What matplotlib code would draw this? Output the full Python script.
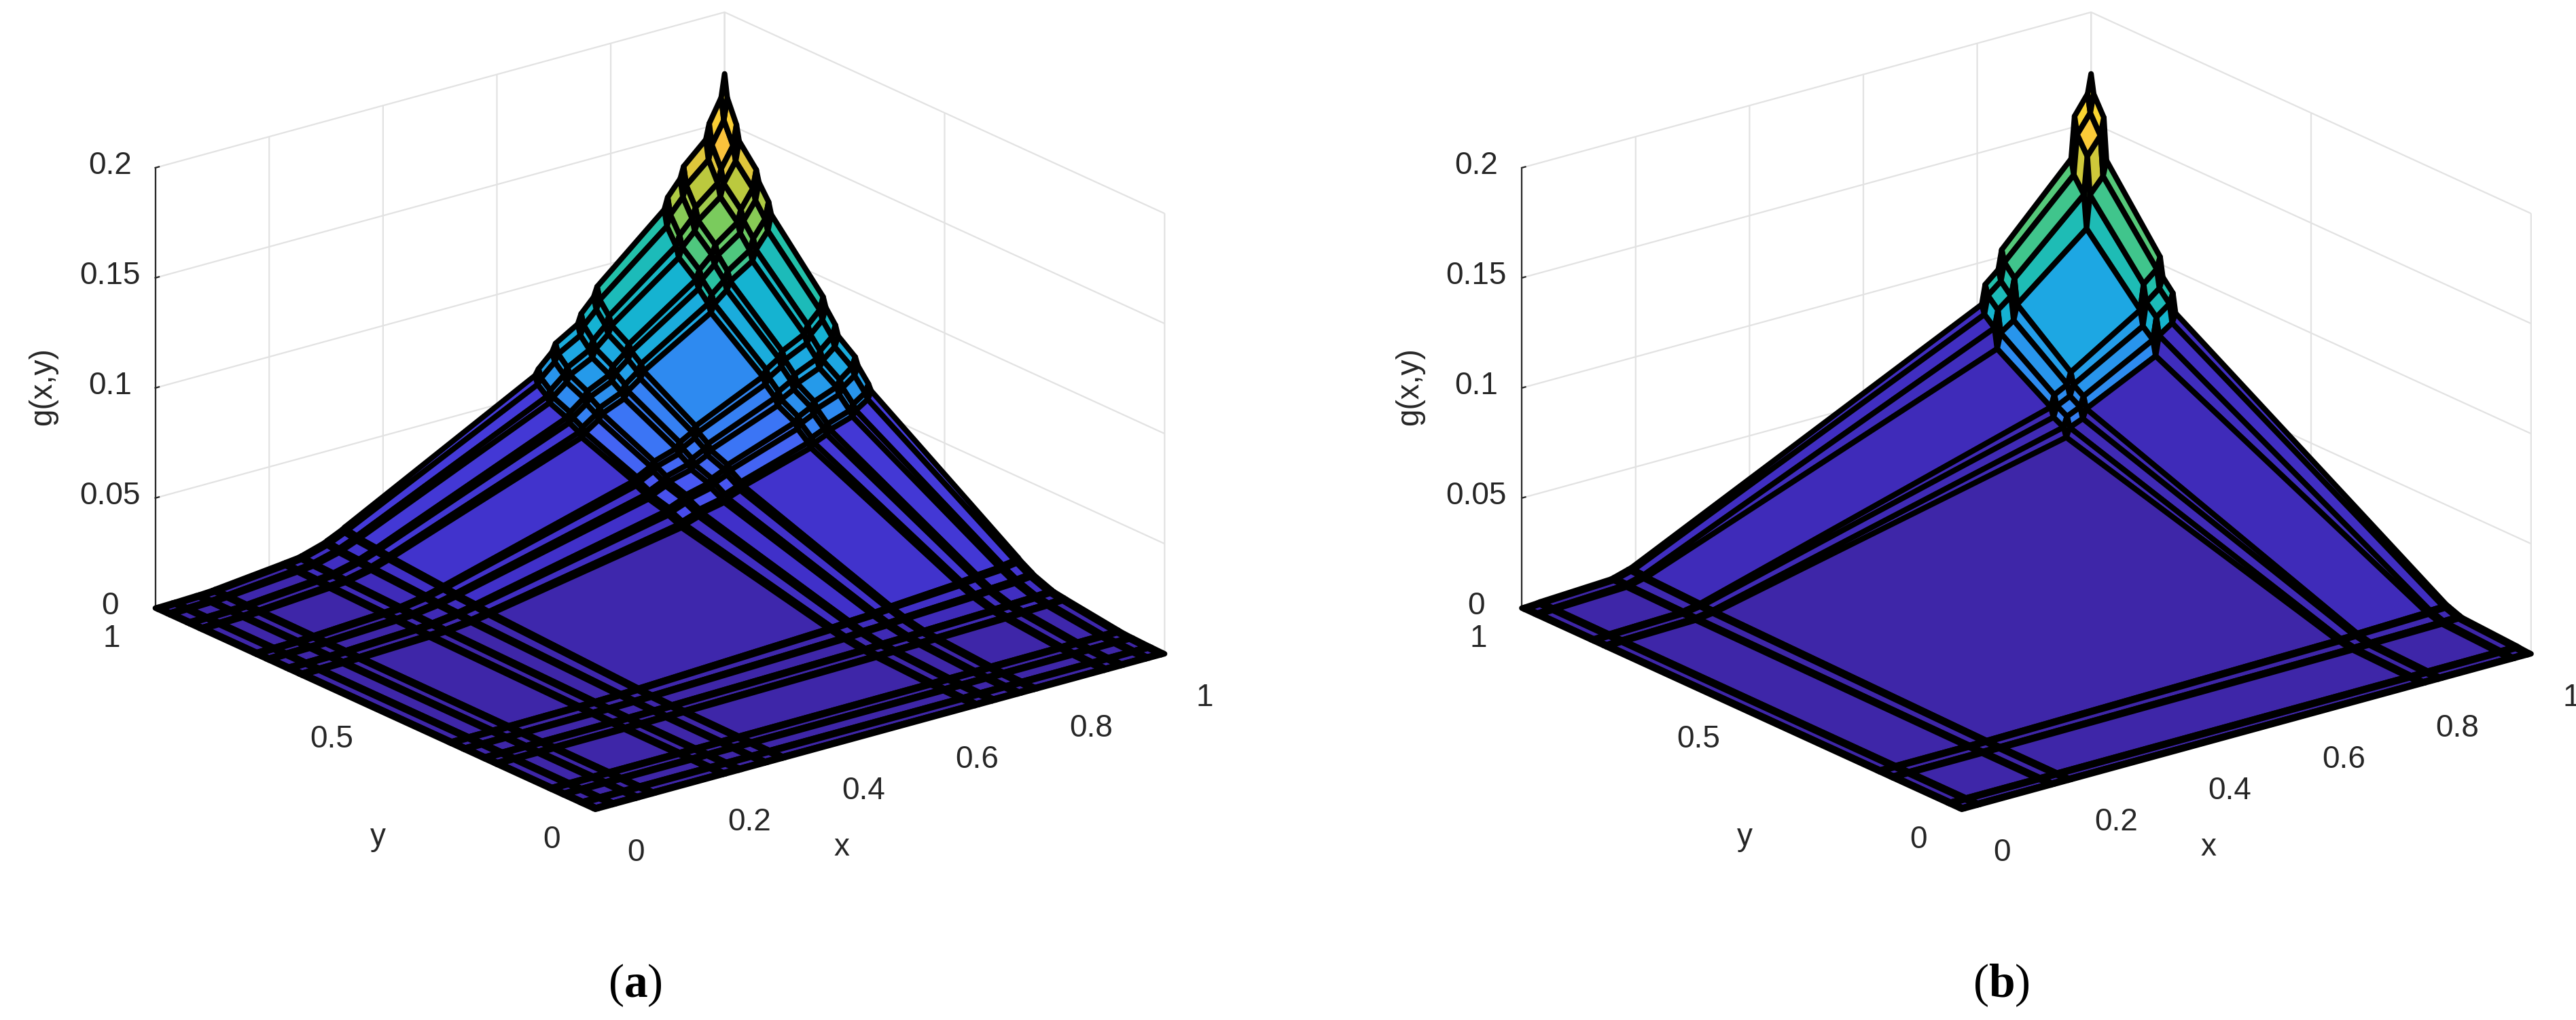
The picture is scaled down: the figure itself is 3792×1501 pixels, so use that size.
# g(x,y) surfaces, panel (a) fine mesh, panel (b) coarse mesh
import numpy as np
import matplotlib
matplotlib.use('Agg')
import matplotlib.pyplot as plt
from matplotlib.colors import LinearSegmentedColormap

# mesh lines of panel (a), same on x and y
grid_a=[0,.005,.03,.035,.072,.077,.1,.105,.224,.229,.252,.257,.297,.302,.328,.333,
        .667,.673,.697,.703,.742,.748,.77,.776,.894,.9,.922,.928,.967,.973,.994,1]
# edge profile of (a) read at y=1, as a share of the peak
profile_a=[0,0,.001,.001,.003,.003,.005,.006,.025,.026,.03,.032,.05,.054,.072,.077,
           .34,.355,.39,.41,.445,.47,.505,.53,.685,.715,.755,.785,.84,.88,.94,1]

# mesh lines of panel (b)
grid_b=[0,.005,.027,.032,.157,.162,.187,.192,.808,.814,.837,.843,.965,.971,.994,1]
profile_b=[0,0,.002,.003,.012,.014,.025,.027,.47,.52,.55,.6,.79,.9,.95,1]

peak=.172

x_ticks=[0,.2,.4,.6,.8,1]
x_labels=['0','0.2','0.4','0.6','0.8','1']
y_ticks=[0,.5,1]
y_labels=['0','0.5','1']
z_ticks=[0,.05,.1,.15,.2]
z_labels=['0','0.05','0.1','0.15','0.2']

parula_pos=[0,.03,.10,.17,.22,.28,.35,.42,.50,.60,.70,.78,.90,1]
parula_col=['#3e26a8','#4030c8','#4743e8','#4858f2','#3a78f5','#2e8af0','#1fa5e6',
            '#14b4d0','#22c0a8','#6ccb63','#c4c93a','#fdc23c','#f6e02b','#f9fb15']

plt.rcParams['font.family']=['Liberation Sans','DejaVu Sans']
plt.rcParams['mathtext.fontset']='custom'
plt.rcParams['mathtext.bf']='Liberation Serif:bold'
plt.rcParams['mathtext.rm']='Liberation Serif'
plt.rcParams['grid.color']='#e2e2e2'
plt.rcParams['grid.linewidth']=1.6

W,H=3792,1501
fig=plt.figure(figsize=(W/100,H/100),dpi=100,facecolor='white')
cmap=LinearSegmentedColormap.from_list('parula_like',list(zip(parula_pos,parula_col)))

side=1602   # axes square in pixels, zoom stays 1
frac=.095/.185  # where the view centre sits inside the 3d axes
text_col='#262626'


def draw_panel(cx,cy,grid,profile,caption,cap_x,shift):
    ax=fig.add_axes([(cx-frac*side)/W,(H-cy-frac*side)/H,side/W,side/H],projection='3d')
    ax.patch.set_alpha(0)
    ax.set_proj_type('ortho')
    ax.view_init(elev=20.7,azim=-127.7)
    ax.set_box_aspect((1,1,.654))

    gx=np.array(grid)
    X,Y=np.meshgrid(gx,gx)
    share=np.outer(profile,profile)
    surf=ax.plot_surface(X,Y,peak*share,facecolors=cmap(share),rstride=1,cstride=1,
                         shade=False,linewidth=5.8,joinstyle='round')
    surf.set_edgecolor('black')

    ax.set_xlim(0,1,view_margin=0)
    ax.set_ylim(0,1,view_margin=0)
    ax.set_zlim(0,.2,view_margin=0)
    ax.set_xticks(x_ticks,x_labels)
    ax.set_yticks(y_ticks,y_labels)
    ax.set_zticks(z_ticks,z_labels)
    ax.tick_params(axis='both',labelsize=33,colors=text_col)
    ax.tick_params(axis='x',pad=47)
    ax.tick_params(axis='y',pad=38)
    ax.tick_params(axis='z',pad=19)
    for t in ax.get_xticklabels()+ax.get_yticklabels():
        t.set_va('bottom')
    for t in ax.get_zticklabels():
        t.set_va('center')

    for axis in (ax.xaxis,ax.yaxis,ax.zaxis):
        axis.set_pane_color((1,1,1,0))
        axis.pane.set_edgecolor('none')
        axis.line.set_color(text_col)
        axis.line.set_linewidth(1.6)
        axis._axinfo['tick']['inward_factor']=.0
        axis._axinfo['tick']['outward_factor']=.08
        axis._axinfo['tick']['linewidth']={True:1.6,False:1}
    ax.grid(True)

    # axis titles sit off the edge centres in the original, so placed by hand
    fig.text((1239+shift)/W,1-1247/H,'x',fontsize=33,color=text_col,ha='center',va='center')
    fig.text((556+shift)/W,1-1232/H,'y',fontsize=33,color=text_col,ha='center',va='center')
    fig.text((63+shift)/W,1-569/H,'g(x,y)',fontsize=33,color=text_col,rotation=90,
             ha='center',va='center')
    fig.text(cap_x/W,1-1450/H,caption,fontsize=50,family='Liberation Serif',
             ha='center',va='center',color='black')
    return ax


draw_panel(971.5,604.5,grid_a,profile_a,r'($\mathbf{a}$)',935,0)
draw_panel(2983,604.5,grid_b,profile_b,r'($\mathbf{b}$)',2946,2012)

fig.savefig('out.png',dpi=100)
